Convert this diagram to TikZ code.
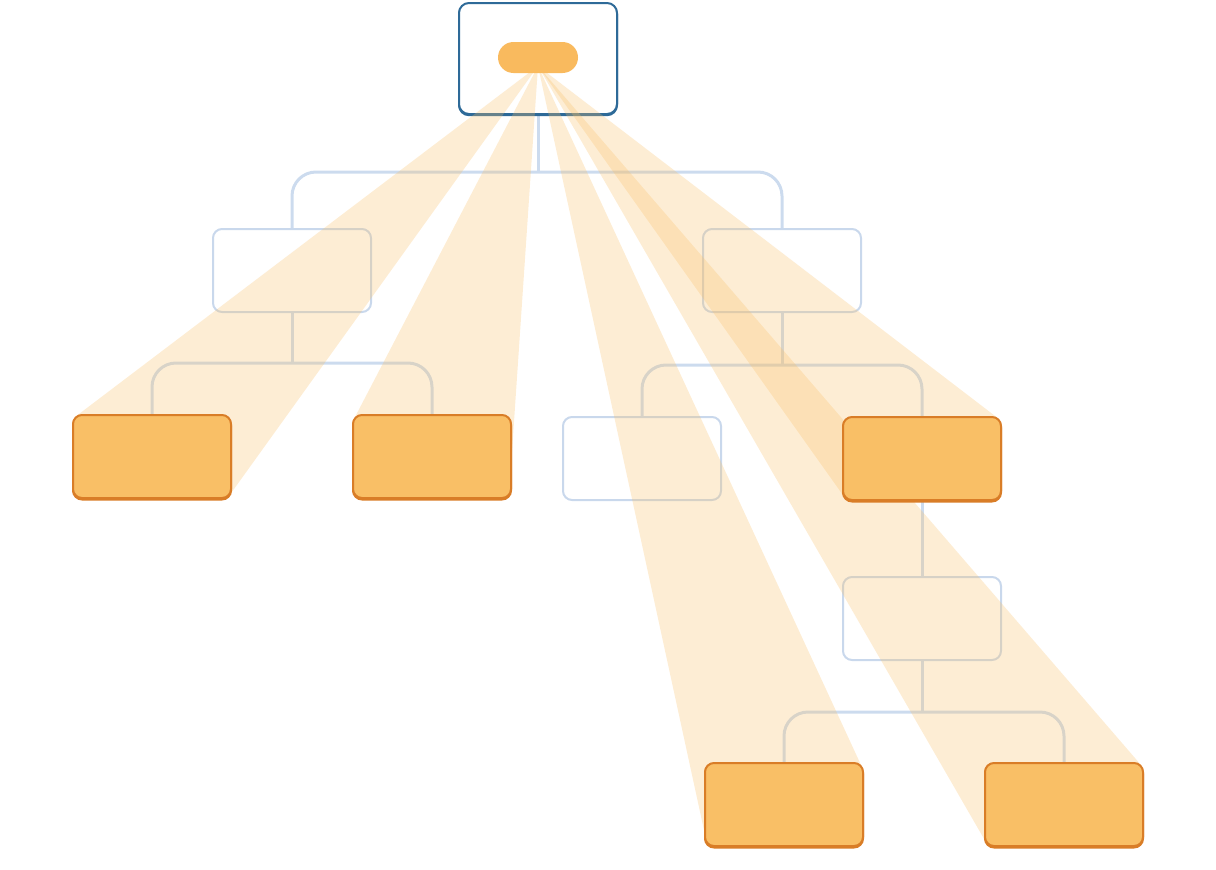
\documentclass[tikz,border=0pt]{standalone}
\usetikzlibrary{calc}
\definecolor{ofill}{HTML}{F9BF66}
\definecolor{odark}{HTML}{D97D27}
\definecolor{lblue}{HTML}{C9D8EC}
\definecolor{tline}{HTML}{CCDBEE}
\definecolor{dblue}{HTML}{2E6A98}
\pgfdeclarelayer{bg}
\pgfdeclarelayer{beams}
\pgfdeclarelayer{fg}
\pgfsetlayers{bg,main,beams,fg}
\begin{document}
\begin{tikzpicture}[x=1pt,y=-1pt,
  wbox/.style={draw=lblue,line width=2pt,fill=white,rounded corners=9pt,minimum width=158pt,minimum height=83pt,inner sep=0pt},
  topbox/.style={draw=dblue,line width=2pt,fill=white,rounded corners=10pt,minimum width=158pt,minimum height=111pt,inner sep=0pt,
    preaction={draw=dblue,line width=2pt,transform canvas={yshift=-1.2pt}}},
  obox/.style={draw=odark,line width=2pt,fill=ofill,rounded corners=9pt,minimum width=158pt,minimum height=83pt,inner sep=0pt,
    preaction={draw=odark,line width=2pt,transform canvas={yshift=-1.5pt}}},
  pillst/.style={fill=ofill!92!orange,rounded corners=15.5pt,minimum width=80pt,minimum height=31pt,inner sep=0pt},
  tree/.style={draw=tline,line width=3pt,rounded corners=24pt},
  beam/.style={fill=ofill,fill opacity=0.28}]
\useasboundingbox (0,0) rectangle (1216,870);
% white nodes
\node[topbox] (top) at (538,58.5) {};
\node[wbox] (L1) at (292,270.5) {};
\node[wbox] (R1) at (782,270.5) {};
\node[wbox] (RL) at (642,458.5) {};
\node[wbox] (RRc) at (922,618.5) {};
% orange nodes and pill on front layer
\begin{pgfonlayer}{fg}
\node[pillst] (pill) at (538,57.5) {};
\node[obox] (LL) at (152,456.5) {};
\node[obox] (LR) at (432,456.5) {};
\node[obox] (RR) at (922,458.5) {};
\node[obox] (B1) at (784,804.5) {};
\node[obox] (B2) at (1064,804.5) {};
\end{pgfonlayer}
\coordinate (apex) at (538,66);
% tree connectors
\begin{pgfonlayer}{bg}
\coordinate (busA) at (538,172);
\coordinate (busB) at (292,363);
\coordinate (busC) at (782,365);
\coordinate (busD) at (922,712);
\draw[tree] (top.south) -- (busA);
\draw[tree] (L1.north) |- (busA) -| (R1.north);
\draw[tree] (L1.south) -- (busB);
\draw[tree] (LL.north) |- (busB) -| (LR.north);
\draw[tree] (R1.south) -- (busC);
\draw[tree] (RL.north) |- (busC) -| (RR.north);
\draw[tree] (RR.south) -- (RRc.north);
\draw[tree] (RRc.south) -- (busD);
\draw[tree] (B1.north) |- (busD) -| (B2.north);
\end{pgfonlayer}
% beams
\begin{pgfonlayer}{beams}
\fill[beam] (apex) -- ($(LL.north west)+(3,3)$) -- ($(LL.south east)+(-3,-3)$) -- cycle;
\fill[beam] (apex) -- ($(LR.north west)+(3,3)$) -- ($(LR.south east)+(-3,-3)$) -- cycle;
\fill[beam] (apex) -- ($(RR.north east)+(-3,3)$) -- ($(RR.south west)+(3,-3)$) -- cycle;
\fill[beam] (apex) -- ($(B1.north east)+(-3,3)$) -- ($(B1.south west)+(3,-3)$) -- cycle;
\fill[beam] (apex) -- ($(B2.north east)+(-3,3)$) -- ($(B2.south west)+(3,-3)$) -- cycle;
\end{pgfonlayer}
\end{tikzpicture}
\end{document}
